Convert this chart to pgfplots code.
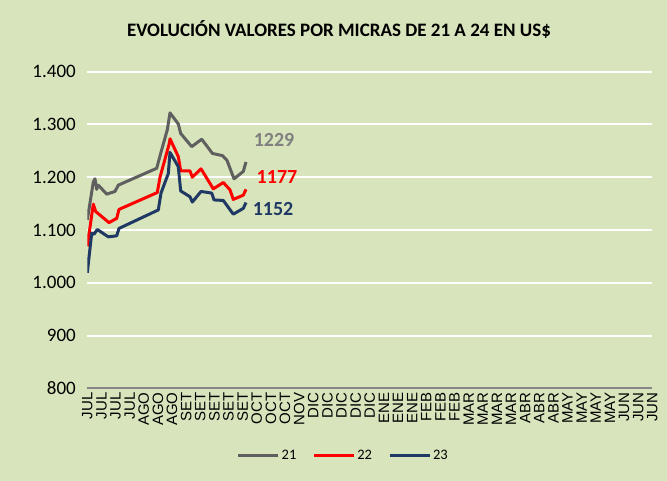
\documentclass[border=0pt]{standalone}
\usepackage{pgfplots}
\pgfplotsset{compat=1.18}
\usepackage{fontspec}
\setmainfont{Carlito}
\newfontfamily\arialf{Liberation Sans}
\definecolor{bg}{HTML}{D8E4BC}
\definecolor{c21}{HTML}{5F5F5F}
\definecolor{c22}{HTML}{FF0000}
\definecolor{c23}{HTML}{1F3864}
\definecolor{c21lab}{HTML}{808080}
\definecolor{axisgray}{HTML}{878787}
\begin{document}
\begin{tikzpicture}
\fill[bg] (0,0) rectangle (667bp,481bp);
\useasboundingbox (0,0) rectangle (667bp,481bp);
\node[font=\bfseries\fontsize{19bp}{22bp}\selectfont] at (339bp,451bp) {EVOLUCIÓN VALORES POR MICRAS DE 21 A 24 EN US\$};
\begin{axis}[
 at={(87.3bp,92.7bp)}, anchor=south west,
 scale only axis, width=565bp, height=316.6bp,
 xmin=0, xmax=40, ymin=800, ymax=1400,
 xtick={0,...,40},
 xticklabels={JUL,JUL,JUL,JUL,AGO,AGO,AGO,SET,SET,SET,SET,SET,OCT,OCT,OCT,NOV,DIC,DIC,DIC,DIC,DIC,ENE,ENE,ENE,FEB,FEB,FEB,MAR,MAR,MAR,MAR,ABR,ABR,ABR,MAY,MAY,MAY,MAY,JUN,JUN,JUN},
 x tick label style={rotate=90, anchor=east, font=\arialf\fontsize{15bp}{15bp}\selectfont, inner sep=4bp},
 ytick={800,900,...,1400},
 y tick label style={font=\fontsize{19bp}{19bp}\selectfont, xshift=-8bp},
 /pgf/number format/.cd, 1000 sep={.}, assume math mode=true, /pgfplots/.cd,
 axis x line*=bottom, axis y line*=left,
 x axis line style={axisgray, line width=2bp, -},
 y axis line style={draw=none},
 major tick length=0pt,
 ymajorgrids, grid style={white, line width=2bp},
 every axis plot/.append style={line width=3bp, line join=round},
 legend style={at={(0.453,-0.211)}, anchor=center, draw=none, fill=none,
   legend columns=3, font=\fontsize{14.5bp}{15bp}\selectfont,
   /tikz/every even column/.append style={column sep=14bp}},
 legend image code/.code={\draw[#1] (0bp,0bp) -- (40bp,0bp);},
]
\addplot[c21] coordinates {
(0,1119) (0.425,1191) (0.545,1197) (0.665,1177) (0.779,1185) (1.373,1168)
(1.961,1173) (2.195,1185) (4.913,1217) (5.267,1252) (5.664,1290) (5.855,1322)
(6.442,1301) (6.612,1283) (7.391,1258) (8.099,1272) (8.864,1245) (9.572,1241)
(9.890,1232) (10.386,1197) (11.044,1211) (11.235,1229)};
\addlegendentry{21}
\addplot[c22] coordinates {
(0,1069) (0.425,1149) (0.595,1135) (1.536,1114) (2.081,1122) (2.244,1139)
(4.956,1171) (5.147,1200) (5.805,1264) (5.855,1273) (6.442,1239) (6.612,1212)
(7.270,1212) (7.434,1200) (8.050,1216) (8.920,1178) (9.628,1190) (10.103,1176)
(10.336,1158) (11.044,1166) (11.235,1177)};
\addlegendentry{22}
\addplot[c23] coordinates {
(0,1019) (0.312,1094) (0.474,1092) (0.708,1101) (1.487,1087) (2.081,1089)
(2.244,1103) (5.027,1138) (5.218,1170) (5.735,1207) (5.855,1247) (6.442,1220)
(6.612,1174) (7.270,1163) (7.434,1153) (8.050,1173) (8.807,1170) (8.970,1157)
(9.628,1156) (10.336,1130) (11.044,1141) (11.235,1152)};
\addlegendentry{23}
\node[font=\bfseries\fontsize{20bp}{20bp}\selectfont, text=c21lab] at (axis cs:13.22,1271) {1229};
\node[font=\bfseries\fontsize{20bp}{20bp}\selectfont, text=c22] at (axis cs:13.43,1200.5) {1177};
\node[font=\bfseries\fontsize{20bp}{20bp}\selectfont, text=c23] at (axis cs:13.15,1140) {1152};
\end{axis}
\end{tikzpicture}
\end{document}
